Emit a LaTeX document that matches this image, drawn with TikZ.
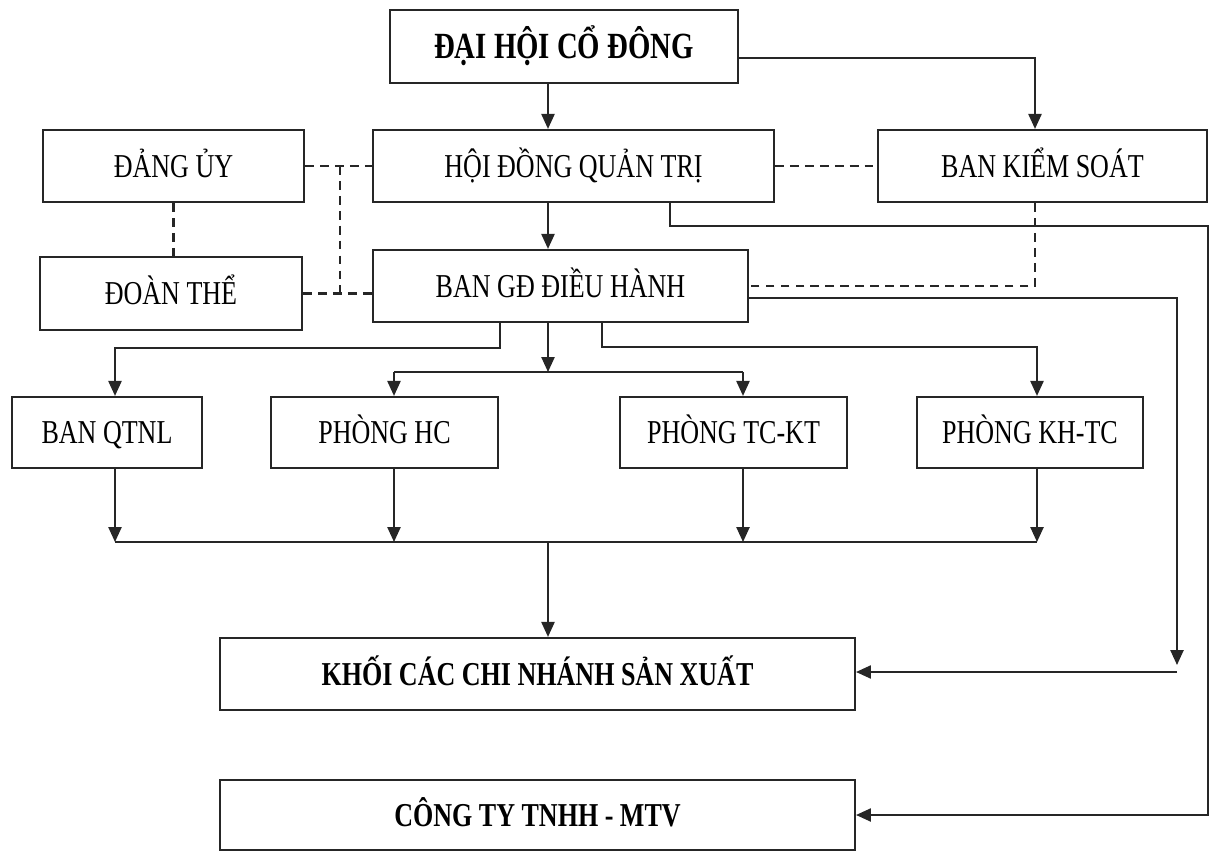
\documentclass[tikz,border=0pt]{standalone}
\usepackage{fontspec}
\setmainfont{Liberation Serif}[FakeStretch=0.78]
\usetikzlibrary{arrows.meta}

\tikzset{
  box/.style={draw=black!85, line width=1.25pt, minimum height=1.44cm, inner sep=0pt,
    text height=15.2pt, text depth=2.6pt, font=\fontsize{19}{22}\selectfont},
  bbox/.style={box, font=\fontsize{19}{22}\selectfont\bfseries},
  conn/.style={draw=black!85, line width=1pt, -{Triangle[length=8.5pt,width=7.5pt]}},
  line/.style={draw=black!85, line width=1pt},
  dline/.style={draw=black!85, line width=1.6pt, dash pattern=on 5pt off 3.5pt},
}

\begin{document}
\begin{tikzpicture}[x=0.02cm, y=-0.02cm]
\useasboundingbox (0,0) rectangle (1215,855);
% boxes
\node[bbox, minimum width=6.96cm, minimum height=1.46cm, font=\fontsize{21}{24}\selectfont\bfseries,
    text height=16.6pt, text depth=2.6pt] (dhcd) at (564,46.5) {ĐẠI HỘI CỔ ĐÔNG};
\node[box, minimum width=8.02cm] (hdqt) at (573.5,166) {HỘI ĐỒNG QUẢN TRỊ};
\node[box, minimum width=6.58cm] (bks) at (1042.5,166) {BAN KIỂM SOÁT};
\node[box, minimum width=5.22cm] (dang) at (173.5,166) {ĐẢNG ỦY};
\node[box, minimum width=5.24cm, minimum height=1.46cm] (doan) at (171,293.5) {ĐOÀN THỂ};
\node[box, minimum width=7.5cm] (bgd) at (560.5,286) {BAN GĐ ĐIỀU HÀNH};
%
\node[box, minimum width=3.8cm, minimum height=1.42cm] (qtnl) at (107,432.5) {BAN QTNL};
\node[box, minimum width=4.54cm, minimum height=1.42cm] (hc) at (384.5,432.5) {PHÒNG HC};
\node[box, minimum width=4.54cm, minimum height=1.42cm] (tckt) at (733.5,432.5) {PHÒNG TC-KT};
\node[box, minimum width=4.52cm, minimum height=1.42cm] (khtc) at (1030,432.5) {PHÒNG KH-TC};
%
\node[bbox, minimum width=12.7cm] (khoi) at (537.5,674) {KHỐI CÁC CHI NHÁNH SẢN XUẤT};
\node[bbox, minimum width=12.7cm, minimum height=1.4cm] (cty) at (537.5,815) {CÔNG TY TNHH - MTV};
%%%%%%%%%%%%%%%%%%%%%%%%%%%%%%%%%%%%%
% columns
\coordinate (vmid) at (548,0);
\coordinate (vbks) at (1035,0);
\coordinate (vdash) at (340,0);
\coordinate (vhd) at (670,0);
\coordinate (cq) at (115,0);
\coordinate (ch) at (394,0);
\coordinate (ct) at (743,0);
\coordinate (ck) at (1037,0);
\coordinate (vl) at (500,348);
\coordinate (vr) at (602,347);
\coordinate (bus1) at (548,372);
\coordinate (bus2) at (548,542);
\coordinate (rout) at (1208,226);
\coordinate (rin) at (1177,672);
%
\draw[conn] (vmid |- dhcd.south) -- (vmid |- hdqt.north);
\draw[conn] (vmid |- hdqt.south) -- (vmid |- bgd.north);
\draw[conn] ([yshift=-0.23cm]dhcd.east) -| (vbks |- bks.north);
% dashed links
\draw[dline] (hdqt.east) -- (bks.west);
\draw[dline] (dang.east) -- (hdqt.west);
\draw[dline] (doan.east) -- (doan.east -| bgd.west);
\draw[dline] (vdash |- dang.east) -- (vdash |- doan.east);
\draw[dline] (dang.south) -- (dang.south |- doan.north);
\draw[dline] (vbks |- bks.south) |- (bgd.east);
% right side
\draw[conn] (vhd |- hdqt.south) |- (rout) |- (cty.east);
\draw[conn] ([yshift=-0.24cm]bgd.east) -| ([yshift=0.14cm]rin);
\draw[conn] (rin) -- (rin -| khoi.east);
% departments
\draw[conn] (vl |- bgd.south) |- (cq |- vl) -- (cq |- qtnl.north);
\draw[conn] (vr |- bgd.south) |- (ck |- vr) -- (ck |- khtc.north);
\draw[conn] (vmid |- bgd.south) -- (bus1);
\draw[line] (ch |- bus1) -- (ct |- bus1);
\draw[conn] (ch |- bus1) -- (ch |- hc.north);
\draw[conn] (ct |- bus1) -- (ct |- tckt.north);
%
\foreach \b/\c in {qtnl/cq, hc/ch, tckt/ct, khtc/ck}
    \draw[conn] (\c |- \b.south) -- (\c |- bus2);
\draw[line] (cq |- bus2) -- (ck |- bus2);
\draw[conn] (bus2) -- (bus2 |- khoi.north);
\end{tikzpicture}
\end{document}
